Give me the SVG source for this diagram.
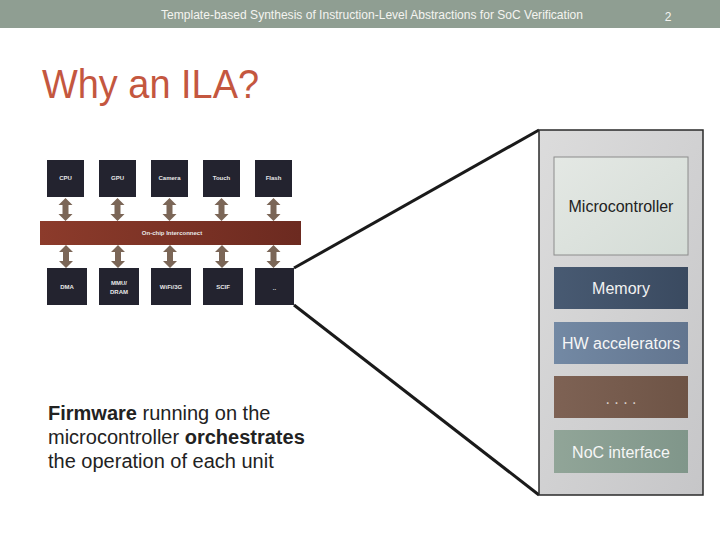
<svg xmlns="http://www.w3.org/2000/svg" width="720" height="540" viewBox="0 0 720 540">
<defs>
<style>
.hdr{font-family:"Liberation Sans",Arial,sans-serif;font-size:12px;fill:#f4f4f0}
.chip{fill:#23232f}
.ct{font-family:"Liberation Sans",Arial,sans-serif;font-size:6px;font-weight:bold;fill:#e8e8e8;text-anchor:middle}
.arr{fill:#7b6657}
.blk{font-family:"Liberation Sans",Arial,sans-serif;font-size:16px;text-anchor:middle}
.body{font-family:"Liberation Sans",Arial,sans-serif;font-size:20px;fill:#222}
.zoom{stroke:#1a1a1a;stroke-width:3;fill:none}
</style>
<linearGradient id="gBus" x1="0" y1="0" x2="1" y2="0"><stop offset="0" stop-color="#8c3b2b"/><stop offset="1" stop-color="#6c2a20"/></linearGradient>
<linearGradient id="gPanel" x1="0" y1="0" x2="1" y2="1"><stop offset="0" stop-color="#dcdcdc"/><stop offset="1" stop-color="#c6c6c8"/></linearGradient>
<linearGradient id="gMc" x1="0" y1="0" x2="1" y2="1"><stop offset="0" stop-color="#e4e8e4"/><stop offset="1" stop-color="#d4dcd6"/></linearGradient>
<linearGradient id="gMem" x1="0" y1="0" x2="1" y2="0"><stop offset="0" stop-color="#485a72"/><stop offset="1" stop-color="#3a4a60"/></linearGradient>
<linearGradient id="gHw" x1="0" y1="0" x2="1" y2="0"><stop offset="0" stop-color="#7389a4"/><stop offset="1" stop-color="#62758f"/></linearGradient>
<linearGradient id="gDots" x1="0" y1="0" x2="1" y2="0"><stop offset="0" stop-color="#7e6254"/><stop offset="1" stop-color="#6e5446"/></linearGradient>
<linearGradient id="gNoc" x1="0" y1="0" x2="1" y2="0"><stop offset="0" stop-color="#91a598"/><stop offset="1" stop-color="#80968a"/></linearGradient>
<polygon id="dbl" points="0,0 7,7 3,7 3,16 7,16 0,23 -7,16 -3,16 -3,7 -7,7"/>
</defs>
<rect width="720" height="540" fill="#ffffff"/>
<rect x="0" y="0" width="720" height="28" fill="#8f9e92"/>
<text class="hdr" x="161" y="19" textLength="422" lengthAdjust="spacingAndGlyphs">Template-based Synthesis of Instruction-Level Abstractions for SoC Verification</text>
<text class="hdr" x="668" y="21" font-size="15" text-anchor="middle">2</text>
<text x="42" y="98" font-family="Liberation Sans,Arial,sans-serif" font-size="40" fill="#c4573f" textLength="217" lengthAdjust="spacingAndGlyphs">Why an ILA?</text>

<g id="connectors">
<use href="#dbl" class="arr" x="65.5" y="198"/>
<use href="#dbl" class="arr" x="117.5" y="198"/>
<use href="#dbl" class="arr" x="169.5" y="198"/>
<use href="#dbl" class="arr" x="221.5" y="198"/>
<use href="#dbl" class="arr" x="273.5" y="198"/>
<use href="#dbl" class="arr" x="66" y="245"/>
<use href="#dbl" class="arr" x="118" y="245"/>
<use href="#dbl" class="arr" x="170" y="245"/>
<use href="#dbl" class="arr" x="222" y="245"/>
<use href="#dbl" class="arr" x="273.5" y="245"/>
<line class="zoom" x1="294" y1="268" x2="539" y2="130"/>
<line class="zoom" x1="294" y1="305" x2="539" y2="495"/>
</g>

<g id="cpu"><rect class="chip" x="47" y="160" width="37" height="37"/><text class="ct" x="65.5" y="180">CPU</text></g>
<g id="gpu"><rect class="chip" x="99" y="160" width="37" height="37"/><text class="ct" x="117.5" y="180">GPU</text></g>
<g id="camera"><rect class="chip" x="151" y="160" width="37" height="37"/><text class="ct" x="169.5" y="180">Camera</text></g>
<g id="touch"><rect class="chip" x="203" y="160" width="37" height="37"/><text class="ct" x="221.5" y="180">Touch</text></g>
<g id="flash"><rect class="chip" x="255" y="160" width="37" height="37"/><text class="ct" x="273.5" y="180">Flash</text></g>

<g id="interconnect"><rect x="40" y="221" width="261" height="24" fill="url(#gBus)"/><text class="ct" x="172" y="235">On-chip Interconnect</text></g>

<g id="dma"><rect class="chip" x="47" y="268" width="40" height="37"/><text class="ct" x="67" y="289">DMA</text></g>
<g id="mmu"><rect class="chip" x="99" y="268" width="40" height="37"/><text class="ct" x="119" y="285">MMU/</text><text class="ct" x="119" y="294">DRAM</text></g>
<g id="wifi"><rect class="chip" x="151" y="268" width="40" height="37"/><text class="ct" x="171" y="289">WiFi/3G</text></g>
<g id="scif"><rect class="chip" x="203" y="268" width="40" height="37"/><text class="ct" x="223" y="289">SCIF</text></g>
<g id="etc"><rect class="chip" x="255" y="268" width="39" height="37"/><text class="ct" x="274.5" y="290">..</text></g>

<g id="panel"><rect x="539" y="130" width="164" height="365" fill="url(#gPanel)" stroke="#2a2a2a" stroke-width="1.5"/></g>
<g id="microcontroller"><rect x="554" y="157" width="134" height="98" fill="url(#gMc)" stroke="#8c8c8c" stroke-width="1"/><text class="blk" x="621" y="212" fill="#222">Microcontroller</text></g>
<g id="memory"><rect x="554" y="267" width="134" height="42" fill="url(#gMem)"/><text class="blk" x="621" y="294" fill="#f2f2f2">Memory</text></g>
<g id="hw"><rect x="554" y="322" width="134" height="42" fill="url(#gHw)"/><text class="blk" x="621" y="349" fill="#f6f6f6">HW accelerators</text></g>
<g id="dots"><rect x="554" y="376" width="134" height="42" fill="url(#gDots)"/><text class="blk" x="621" y="404" font-size="10" fill="#d8cfc8">. . . .</text></g>
<g id="noc"><rect x="554" y="430" width="134" height="43" fill="url(#gNoc)"/><text class="blk" x="621" y="458" fill="#f6f6f6">NoC interface</text></g>

<text class="body" x="48" y="420"><tspan font-weight="bold">Firmware</tspan> running on the</text>
<text class="body" x="48" y="444">microcontroller <tspan font-weight="bold">orchestrates</tspan></text>
<text class="body" x="48" y="468">the operation of each unit</text>
</svg>
